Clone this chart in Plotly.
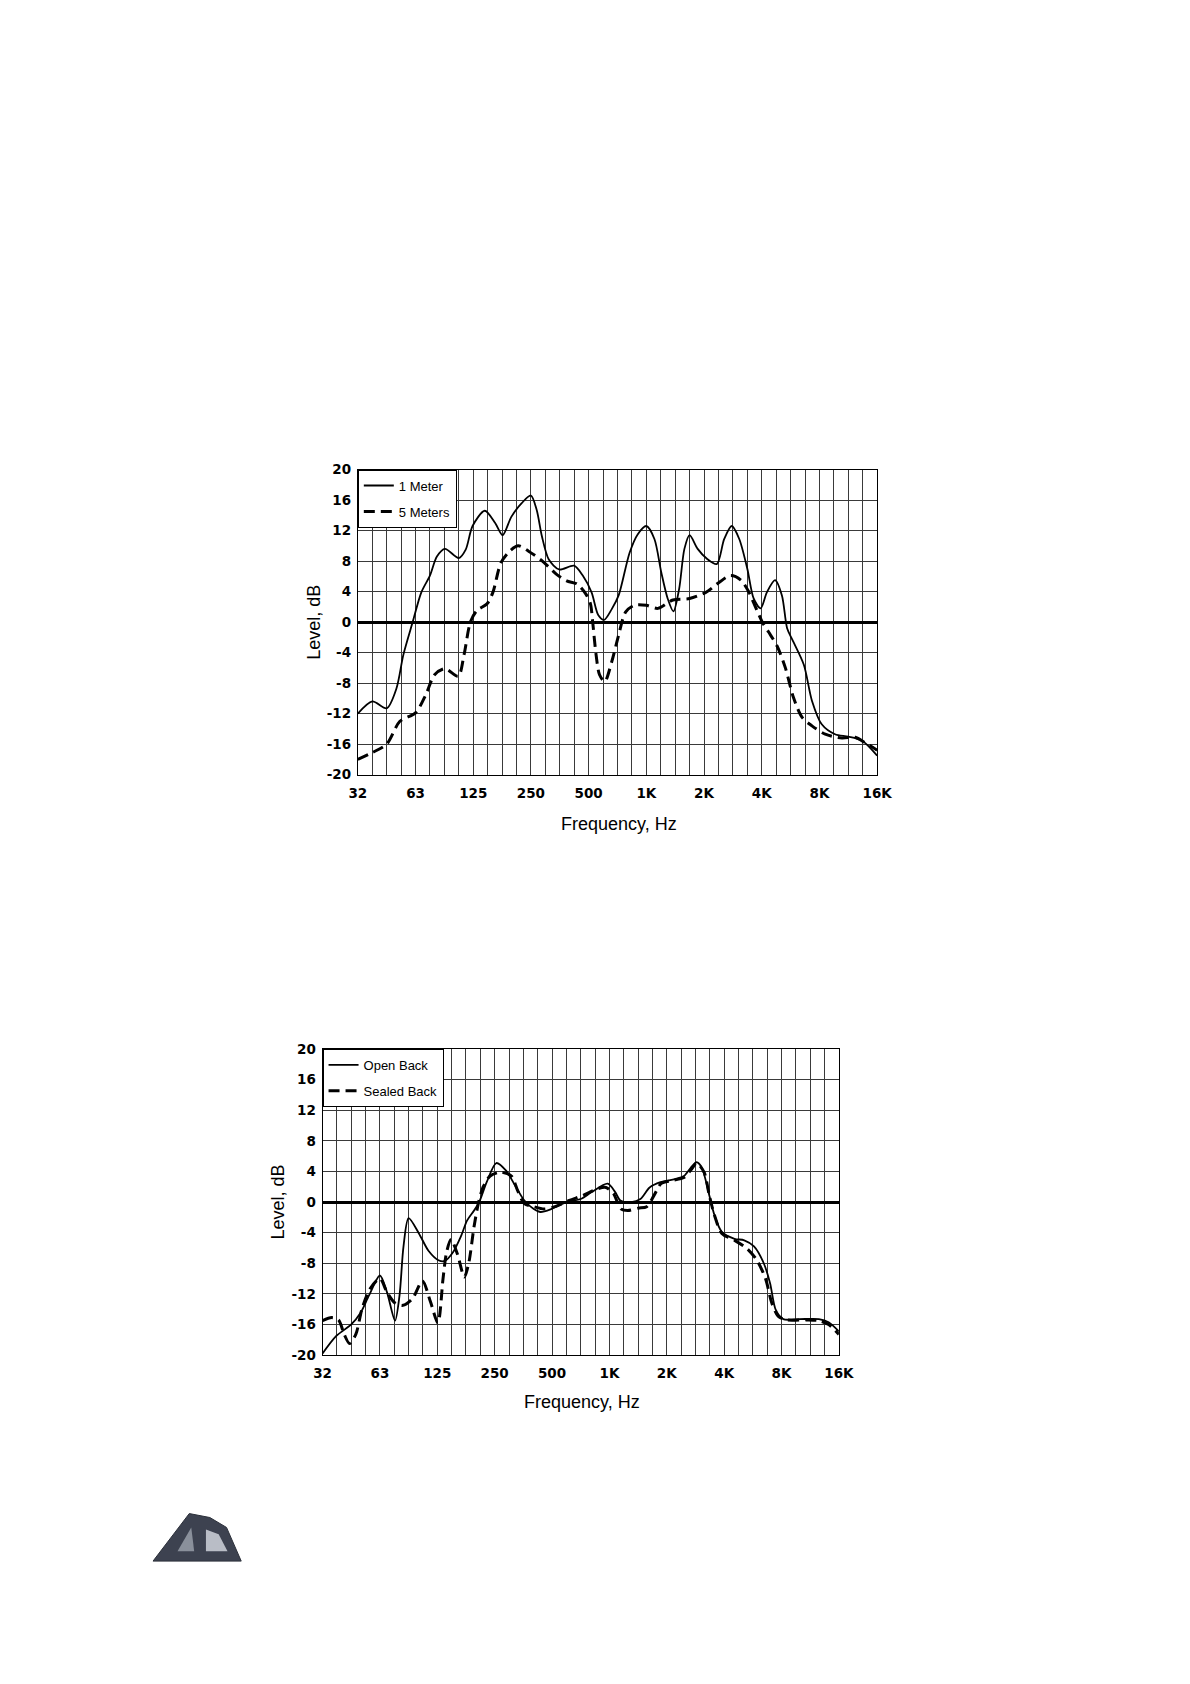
import math
import plotly.graph_objects as go

W, H = 1190, 1684

# ---------------- data (frequency in Hz, level in dB) ----------------
octave_labels = ["32", "63", "125", "250", "500", "1K", "2K", "4K", "8K", "16K"]
octave_freqs = [31.25, 62.5, 125, 250, 500, 1000, 2000, 4000, 8000, 16000]

# Chart 1: distance comparison
meter1_f = [31.25, 37.2, 44.2, 49.7, 54.0, 60.4, 67.0, 74.3, 80.8, 89.0, 105.1, 114.2,
            124, 143.6, 162.7, 178, 197.5, 223.8, 250, 268, 285, 310, 351, 420, 466,
            518, 562, 603, 660, 717, 818, 901, 1000, 1102, 1197, 1292, 1385, 1484,
            1580, 1682, 1853, 2071, 2330, 2549, 2790, 3053, 3364, 3630, 3945, 4255,
            4692, 5098, 5426, 5775, 6634, 7311, 8225, 9647, 11314, 13270, 16000]
meter1_db = [-12, -10.4, -11.3, -8.7, -4.3, 0, 3.9, 6.1, 8.6, 9.6, 8.4, 9.5,
             12.6, 14.6, 13, 11.4, 13.8, 15.6, 16.6, 14.7, 11.3, 8.2, 6.9, 7.4, 6.1,
             3.9, 0.9, 0.3, 1.7, 3.5, 9.1, 11.5, 12.6, 10.9, 6.5, 3.1, 1.4, 4.4,
             9.6, 11.4, 9.6, 8.3, 7.6, 10.9, 12.6, 10.9, 7.0, 3.1, 1.8, 3.9,
             5.5, 3.5, -0.8, -2.3, -5.6, -10.3, -13.4, -14.7, -15.0, -15.5, -17.5]

meter5_f = [31.25, 37.2, 44.2, 51.8, 62.5, 70.8, 78.6, 89.0, 104.4, 111.9, 120.8,
            130.4, 147.6, 158.3, 174.5, 193.6, 214.7, 243, 287, 339, 384, 435, 483,
            511, 525, 547, 570, 607, 660, 717, 779, 864, 1000, 1149, 1376, 1682,
            2043, 2395, 2751, 3117, 3434, 3707, 4028, 4346, 4823, 5315, 5857, 6499,
            7311, 8576, 10484, 12298, 13836, 16000]
meter5_db = [-18, -17.1, -16, -13, -11.9, -9.5, -6.9, -6.1, -7.1, -4.3, 0,
             1.5, 2.4, 3.9, 7.8, 9.3, 10.0, 9.3, 8.0, 6.3, 5.4, 5.0, 3.7,
             2.4, 0, -4.3, -6.9, -7.8, -5.2, -1.7, 1.3, 2.2, 2.2, 1.8, 2.9, 3.1,
             3.9, 5.2, 6.1, 5.5, 3.9, 2.0, 0, -1.3, -3.2, -6.0, -9.9, -12.5,
             -13.6, -14.7, -15.2, -15.1, -15.8, -16.8]

# Chart 2: cabinet back comparison
open_f = [31.25, 36.9, 44.2, 49.4, 54.8, 62.5, 68.1, 75.0, 79.2, 83.1, 88.4, 100.1,
          112.6, 126.8, 136.8, 150.8, 166.2, 179.3, 194.9, 207.4, 227.0, 255, 287,
          321, 358, 401, 435, 497, 595, 707, 807, 979, 1072, 1141, 1301, 1454, 1625,
          1853, 2206, 2462, 2676, 2868, 3053, 3341, 3556, 3890, 4532, 5098, 5736,
          6454, 6964, 7464, 8169, 9922, 12556, 14127, 16000]
open_db = [-19.8, -17.5, -16, -14.5, -12.2, -9.6, -11.8, -15.5, -12.2, -5.8, -2.1, -4.1,
           -6.4, -7.6, -7.7, -6.6, -4.5, -2.4, -1.1, 0, 2.6, 5.1, 4.1,
           2.1, 0.2, -0.9, -1.3, -0.9, 0, 0.4, 1.3, 2.4, 1.3, 0.2, 0, 0.4, 1.9,
           2.6, 3.0, 3.4, 4.5, 5.2, 4.5, 0.9, -1.7, -3.9, -4.8, -5.0, -5.8,
           -8.0, -10.6, -14.1, -15.3, -15.3, -15.3, -15.7, -16.9]

sealed_f = [31.25, 34.9, 37.9, 40.6, 43.3, 46.7, 50.4, 55.6, 62.5, 68.1, 75.0, 82.5,
            92.8, 104.4, 115.0, 125.9, 134.0, 139.7, 147.6, 159.4, 173.3, 183.0,
            194.9, 206.0, 217.7, 236.6, 268, 306, 330, 358, 401, 454, 518, 616, 732,
            859, 959, 1050, 1149, 1248, 1414, 1569, 1717, 1866, 2114, 2462, 2695,
            2868, 3138, 3341, 3556, 3890, 4532, 5278, 5938, 6589, 7112, 7674, 8516,
            10780, 12556, 14127, 16000]
sealed_db = [-15.5, -15.1, -15.4, -17.3, -18.5, -17.3, -13.9, -11.3, -10.0, -11.8, -13.2, -13.5,
             -12.6, -10.3, -13.0, -15.8, -10.0, -6.6, -4.9, -6.8, -9.8, -7.9,
             -3.2, 0, 2.0, 3.4, 3.9, 3.4, 1.5, -0.2, -0.6, -0.9, -0.6, 0.2, 0.9,
             1.7, 1.9, 1.1, -0.9, -1.1, -0.8, -0.6, 0.9, 2.4, 2.8, 3.2, 4.3,
             5.1, 3.9, 0.9, -1.7, -4.1, -5.0, -6.1, -7.6, -10.0, -13.2, -14.9, -15.4,
             -15.4, -15.5, -16.0, -17.3]

y_ticks = [20, 16, 12, 8, 4, 0, -4, -8, -12, -16, -20]

# ---------------- layout helpers ----------------
def px_x(x):
    return x / W

def px_y(y):
    return 1 - y / H

# quarter-octave grid positions and labels
grid_vals, grid_text = [], []
for i, f in enumerate(octave_freqs):
    grid_vals.append(f)
    grid_text.append(octave_labels[i])
    if i < len(octave_freqs) - 1:
        for q in (1, 2, 3):
            grid_vals.append(f * 2 ** (q / 4))
            grid_text.append("")

FONT = "Liberation Sans, Arial, Helvetica, sans-serif"
TICKFONT = dict(family="DejaVu Sans, Liberation Sans, sans-serif", size=13.5,
                color="black", weight="bold")

fig = go.Figure()

fig.add_trace(go.Scatter(x=meter1_f, y=meter1_db, name="1 Meter", mode="lines",
                         line=dict(color="black", width=1.8, shape="spline", smoothing=0.8),
                         xaxis="x", yaxis="y", legend="legend", legendgroup="a"))
fig.add_trace(go.Scatter(x=meter5_f, y=meter5_db, name="5 Meters", mode="lines",
                         line=dict(color="black", width=3, dash="11px,6px", shape="spline", smoothing=0.8),
                         xaxis="x", yaxis="y", legend="legend", legendgroup="b"))
fig.add_trace(go.Scatter(x=open_f, y=open_db, name="Open Back", mode="lines",
                         line=dict(color="black", width=1.8, shape="spline", smoothing=0.8),
                         xaxis="x2", yaxis="y2", legend="legend2", legendgroup="c"))
fig.add_trace(go.Scatter(x=sealed_f, y=sealed_db, name="Sealed Back", mode="lines",
                         line=dict(color="black", width=3, dash="11px,6px", shape="spline", smoothing=0.8),
                         xaxis="x2", yaxis="y2", legend="legend2", legendgroup="d"))


def xaxis_cfg(domain, anchor):
    return dict(type="log", domain=domain, anchor=anchor,
                range=[math.log10(octave_freqs[0]), math.log10(octave_freqs[-1])],
                tickmode="array", tickvals=grid_vals, ticktext=grid_text,
                showgrid=True, gridcolor="#3a3a3a", gridwidth=1,
                showline=True, linecolor="black", linewidth=1, mirror=True,
                ticks="", ticklen=0, ticklabelstandoff=6,
                tickfont=TICKFONT, zeroline=False, fixedrange=True)


def yaxis_cfg(domain, anchor):
    return dict(domain=domain, anchor=anchor, range=[-20, 20],
                tickmode="array", tickvals=y_ticks, ticktext=[str(v) for v in y_ticks],
                showgrid=True, gridcolor="#3a3a3a", gridwidth=1,
                showline=True, linecolor="black", linewidth=1, mirror=True,
                zeroline=True, zerolinecolor="black", zerolinewidth=3,
                ticks="", ticklen=0, ticklabelstandoff=3,
                tickfont=TICKFONT, fixedrange=True)


# chart pixel boxes
c1 = dict(l=356, r=886, t=466, b=774)
c2 = dict(l=320, r=847, t=1051, b=1360)

legend_common = dict(xanchor="left", yanchor="top",
                     bgcolor="white", bordercolor="black", borderwidth=1,
                     font=dict(family=FONT, size=13, color="black"),
                     traceorder="grouped", tracegroupgap=6, itemwidth=30)

fig.update_layout(
    width=W, height=H, autosize=False,
    margin=dict(l=0, r=0, t=0, b=0),
    paper_bgcolor="white", plot_bgcolor="white",
    font=dict(family=FONT, color="black"),
    xaxis=xaxis_cfg([px_x(c1["l"]), px_x(c1["r"])], "y"),
    yaxis=yaxis_cfg([px_y(c1["b"]), px_y(c1["t"])], "x"),
    xaxis2=xaxis_cfg([px_x(c2["l"]), px_x(c2["r"])], "y2"),
    yaxis2=yaxis_cfg([px_y(c2["b"]), px_y(c2["t"])], "x2"),
    legend=dict(x=px_x(c1["l"]), y=px_y(c1["t"]), **legend_common),
    legend2=dict(x=px_x(c2["l"]), y=px_y(c2["t"]), **legend_common),
    showlegend=True,
)

# axis titles
annots = [
    dict(text="Level, dB", x=px_x(311), y=px_y((c1["t"] + c1["b"]) / 2), textangle=-90),
    dict(text="Frequency, Hz", x=px_x(623), y=px_y(824), textangle=0),
    dict(text="Level, dB", x=px_x(275), y=px_y((c2["t"] + c2["b"]) / 2), textangle=-90),
    dict(text="Frequency, Hz", x=px_x(585), y=px_y(1407), textangle=0),
]
for a in annots:
    fig.add_annotation(xref="paper", yref="paper", showarrow=False,
                       xanchor="center", yanchor="middle",
                       font=dict(family=FONT, size=18, color="black"), **a)


# logo (decorative) in the lower-left corner
def path_from(points):
    return "M " + " L ".join(f"{px_x(x):.5f},{px_y(y):.5f}" for x, y in points) + " Z"


fig.add_shape(type="path", xref="paper", yref="paper",
              path=path_from([(147, 1568), (184, 1520), (205, 1524), (222, 1534), (237, 1568)]),
              fillcolor="#3d4250", line=dict(color="#2c303a", width=1))
fig.add_shape(type="path", xref="paper", yref="paper",
              path=path_from([(172, 1558), (186, 1534), (189, 1558)]),
              fillcolor="#8a909b", line=dict(width=0))
fig.add_shape(type="path", xref="paper", yref="paper",
              path=path_from([(201, 1536), (214, 1541), (223, 1558), (201, 1558)]),
              fillcolor="#b9bdc6", line=dict(width=0))

fig.write_html("out.html", config={"displayModeBar": False},
               post_script="document.body.style.margin='0';")
